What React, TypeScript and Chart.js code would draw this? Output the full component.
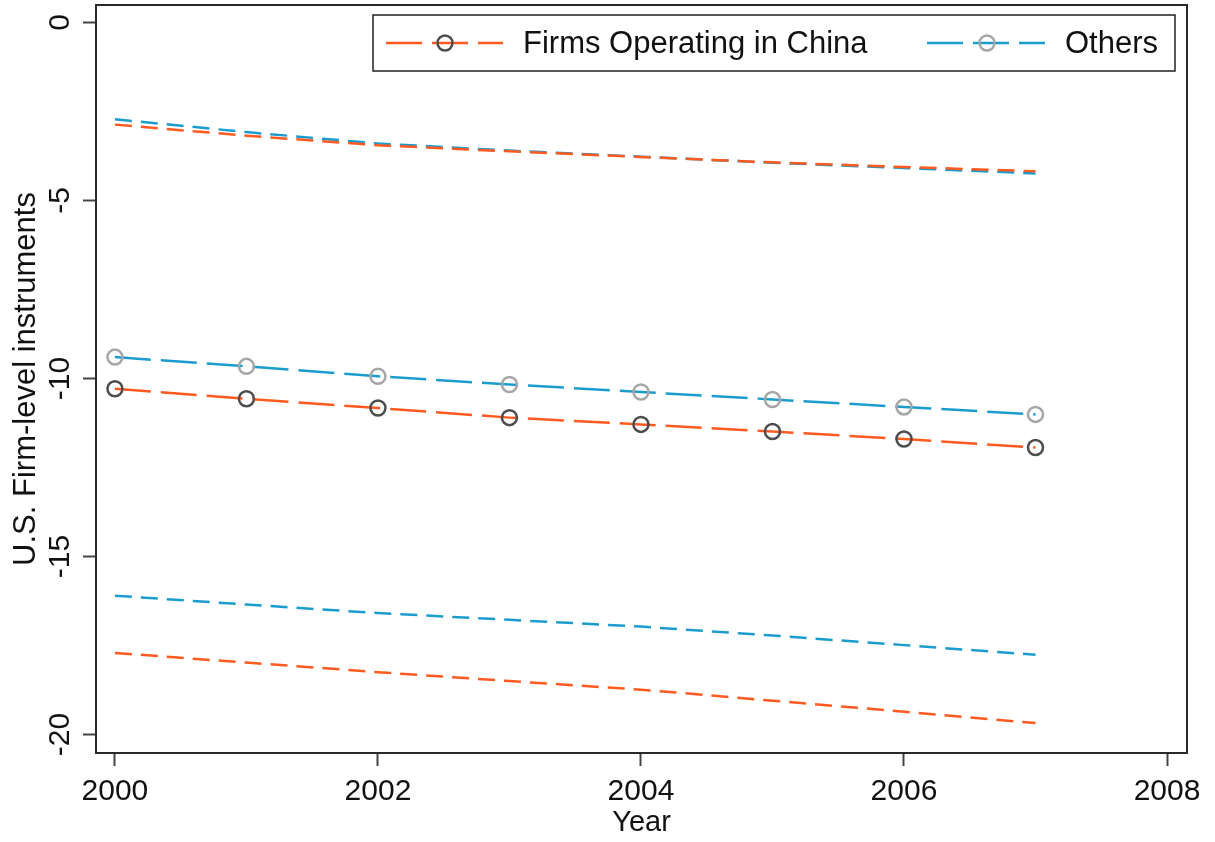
import React, { useEffect, useRef } from "react";
import { Chart, registerables } from "chart.js";

Chart.register(...registerables);

const years = [2000, 2001, 2002, 2003, 2004, 2005, 2006, 2007];
const chinaFit = [-10.29, -10.57, -10.83, -11.1, -11.29, -11.49, -11.7, -11.94];
const othersFit = [-9.4, -9.66, -9.94, -10.17, -10.38, -10.59, -10.8, -11.01];
const chinaUpper = [-2.87, -3.18, -3.45, -3.62, -3.78, -3.93, -4.06, -4.18];
const othersUpper = [-2.72, -3.08, -3.4, -3.6, -3.77, -3.94, -4.09, -4.24];
const chinaLower = [-17.71, -17.98, -18.25, -18.5, -18.74, -19.05, -19.36, -19.68];
const othersLower = [-16.1, -16.35, -16.59, -16.78, -16.97, -17.22, -17.49, -17.76];
const xTicks = [2000, 2002, 2004, 2006, 2008];
const yTicks = [0, -5, -10, -15, -20];
const seriesNames = ["Firms Operating in China", "Others"];

const ORANGE = "#ff5a1f";
const BLUE = "#1b9ccf";
const DARK_MARKER = "#4d4d4d";
const LIGHT_MARKER = "#a6a6a6";
const FONT = "'Liberation Sans', Arial, sans-serif";

const toXY = (vals: number[]) => vals.map((v, i) => ({ x: years[i], y: v }));

const frameAndLegend = {
  id: "frameAndLegend",
  afterDraw(chart: any) {
    const { ctx, chartArea: a } = chart;
    ctx.save();
    ctx.strokeStyle = "#2a2a2a";
    ctx.lineWidth = 2;
    ctx.setLineDash([]);
    ctx.strokeRect(a.left, a.top, a.right - a.left, a.bottom - a.top);

    // legend box
    const bx = 373, by = 15, bw = 802, bh = 56;
    ctx.fillStyle = "#ffffff";
    ctx.fillRect(bx, by, bw, bh);
    ctx.strokeStyle = "#222";
    ctx.lineWidth = 1.5;
    ctx.strokeRect(bx, by, bw, bh);

    const entries = [
      { x1: 386, x2: 503, cx: 445, color: ORANGE, marker: DARK_MARKER, tx: 523, label: seriesNames[0] },
      { x1: 927, x2: 1045, cx: 987, color: BLUE, marker: LIGHT_MARKER, tx: 1065, label: seriesNames[1] },
    ];
    const ly = 43;
    for (const e of entries) {
      ctx.beginPath();
      ctx.strokeStyle = e.color;
      ctx.lineWidth = 2.5;
      ctx.setLineDash([36, 10]);
      ctx.moveTo(e.x1, ly);
      ctx.lineTo(e.x2, ly);
      ctx.stroke();
      ctx.setLineDash([]);
      ctx.beginPath();
      ctx.strokeStyle = e.marker;
      ctx.lineWidth = 2.5;
      ctx.arc(e.cx, ly, 7.5, 0, Math.PI * 2);
      ctx.stroke();
      ctx.fillStyle = "#111";
      ctx.font = `31px ${FONT}`;
      ctx.textAlign = "left";
      ctx.textBaseline = "middle";
      ctx.fillText(e.label, e.tx, ly + 1);
    }
    ctx.restore();
  },
};

export default function App() {
  const ref = useRef<HTMLCanvasElement | null>(null);
  useEffect(() => {
    if (!ref.current) return;
    const fitLine = (label: string, data: number[], color: string, marker: string) => ({
      label,
      data: toXY(data),
      borderColor: color,
      borderWidth: 2.5,
      borderDash: [36, 10],
      pointRadius: 7.5,
      pointBorderWidth: 2.5,
      pointBorderColor: marker,
      pointBackgroundColor: "rgba(0,0,0,0)",
      fill: false,
      tension: 0,
    });
    const bandLine = (label: string, data: number[], color: string) => ({
      label,
      data: toXY(data),
      borderColor: color,
      borderWidth: 2.5,
      borderDash: [17, 9],
      pointRadius: 0,
      fill: false,
      tension: 0,
    });
    const chart = new Chart(ref.current, {
      type: "line",
      data: {
        datasets: [
          bandLine("China upper", chinaUpper, ORANGE),
          bandLine("Others upper", othersUpper, BLUE),
          bandLine("China lower", chinaLower, ORANGE),
          bandLine("Others lower", othersLower, BLUE),
          fitLine(seriesNames[1], othersFit, BLUE, LIGHT_MARKER),
          fitLine(seriesNames[0], chinaFit, ORANGE, DARK_MARKER),
        ] as any,
      },
      options: {
        responsive: false,
        animation: false,
        layout: { autoPadding: false, padding: { left: 0, top: 5, right: 28, bottom: 0 } },
        plugins: { legend: { display: false }, tooltip: { enabled: false } },
        scales: {
          x: {
            type: "linear",
            min: 1999.856,
            max: 2008.152,
            afterBuildTicks: (s: any) => {
              s.ticks = xTicks.map((v) => ({ value: v }));
            },
            afterFit: (s: any) => {
              s.height = 89;
              s.paddingLeft = 0;
              s.paddingRight = 0;
            },
            grid: { drawOnChartArea: false, drawTicks: true, tickLength: 13, tickColor: "#444", tickWidth: 2 },
            border: { display: false },
            ticks: {
              color: "#111",
              font: { family: FONT, size: 30 },
              padding: 8,
              maxRotation: 0,
              minRotation: 0,
              callback: (v: any) => String(v),
            },
            title: {
              display: true,
              text: "Year",
              color: "#111",
              font: { family: FONT, size: 29 },
              padding: { top: 0, bottom: 2 },
            },
          },
          y: {
            type: "linear",
            min: -20.52,
            max: 0.49,
            afterBuildTicks: (s: any) => {
              s.ticks = yTicks.map((v) => ({ value: v }));
            },
            afterFit: (s: any) => {
              s.width = 96;
              s.paddingTop = 0;
              s.paddingBottom = 0;
            },
            grid: { drawOnChartArea: false, drawTicks: true, tickLength: 13, tickColor: "#444", tickWidth: 2 },
            border: { display: false },
            ticks: {
              color: "#111",
              font: { family: FONT, size: 30 },
              padding: 1,
              minRotation: 90,
              maxRotation: 90,
              crossAlign: "center",
              callback: (v: any) => String(v),
            },
            title: {
              display: true,
              text: "U.S. Firm-level instruments",
              color: "#111",
              font: { family: FONT, size: 31 },
              padding: { top: 8, bottom: 0 },
            },
          },
        },
      },
      plugins: [frameAndLegend],
    } as any);
    return () => chart.destroy();
  }, []);
  return (
    <div style={{ position: "absolute", left: 0, top: 0, width: 1215, height: 842, background: "#fff" }}>
      <canvas ref={ref} width={1215} height={842} style={{ display: "block" }} />
    </div>
  );
}
